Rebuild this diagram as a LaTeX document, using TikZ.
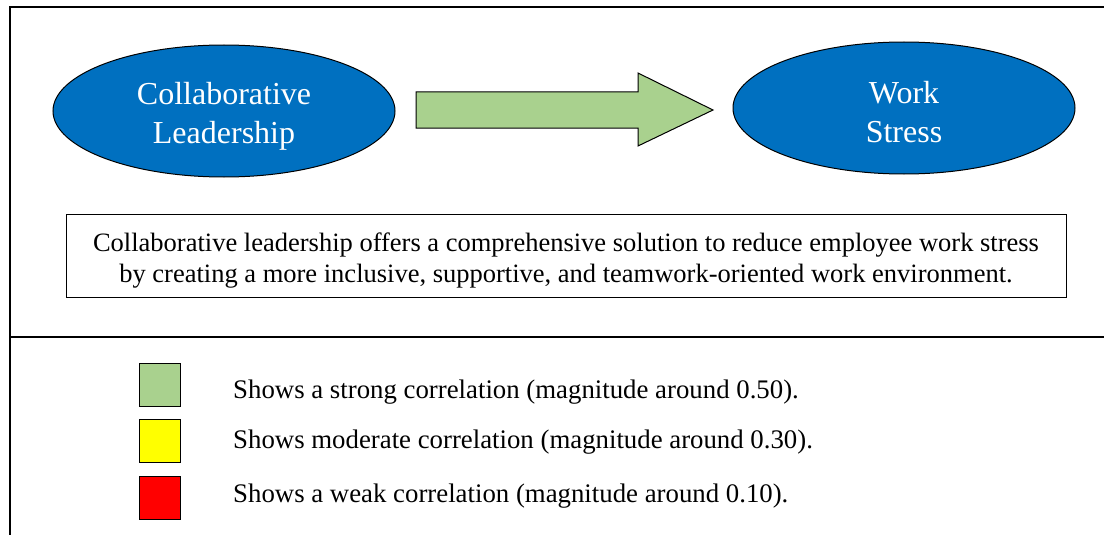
\documentclass[tikz,border=0pt]{standalone}
\usepackage{fontspec}
\setmainfont{Liberation Serif}
\usetikzlibrary{shapes.geometric,calc}
\definecolor{ellblue}{HTML}{0070C0}
\definecolor{arrgreen}{HTML}{A9D18E}
\definecolor{legyellow}{HTML}{FFFF00}
\definecolor{legred}{HTML}{FF0000}
\begin{document}
\begin{tikzpicture}[x=1pt,y=-1pt,
  frameline/.style={line width=1.5pt},
  oval/.style={ellipse, draw=black, line width=1pt, fill=ellblue,
     minimum width=342pt, minimum height=132pt, inner sep=0pt},
  ovaltext/.style={text=white, align=center, inner sep=0pt,
     font=\fontsize{32}{39}\selectfont},
  blockarrow/.style={draw=black, line width=1pt, fill=arrgreen, line join=miter},
  textbox/.style={draw=black, line width=1pt, minimum width=1000pt, minimum height=83pt,
     inner sep=0pt},
  boxtext/.style={align=center, inner sep=0pt, font=\fontsize{26.5}{31}\selectfont},
  legbox/.style={draw=black, line width=1pt, minimum width=41pt, minimum height=43pt, inner sep=0pt},
  legtext/.style={anchor=west, inner sep=0pt, font=\fontsize{26.8}{30}\selectfont}
]
\useasboundingbox (0,0) rectangle (1104,535);
% frame
\draw[frameline] (10,535) -- (10,7) -- (1104,7);
\draw[frameline] (10,337) -- (1104,337);
% ellipses
\node[oval] (cl) at (224,111) {};
\node[ovaltext] at ($(cl.center)+(0,5)$) {Collaborative\\Leadership};
\node[oval] (ws) at (904,108) {};
\node[ovaltext] at ($(ws.center)+(0,4)$) {Work\\Stress};
% block arrow
\coordinate (as) at (416,110);
\coordinate (at) at (713,110);
\draw[blockarrow] ($(as)+(0,-18)$) -- (638,92) -- (638,73) -- (at) -- (638,146) -- (638,128) -- ($(as)+(0,18)$) -- cycle;
% text box
\node[textbox] (tb) at (566,255.5) {};
\node[boxtext] at ($(tb.center)+(0,5)$) {Collaborative leadership offers a comprehensive solution to reduce employee work stress\\by creating a more inclusive, supportive, and teamwork-oriented work environment.};
% legend
\node[legbox, fill=arrgreen] (lg) at (159.5,385) {};
\node[legbox, fill=legyellow] (ly) at (159.5,441) {};
\node[legbox, fill=legred] (lr) at (159.5,497.5) {};
\node[legtext] (tg) at (233,392) {Shows a strong correlation (magnitude around 0.50).};
\node[legtext] (ty) at (233,442) {Shows moderate correlation (magnitude around 0.30).};
\node[legtext] (tr) at (233,496) {Shows a weak correlation (magnitude around 0.10).};
\end{tikzpicture}
\end{document}
